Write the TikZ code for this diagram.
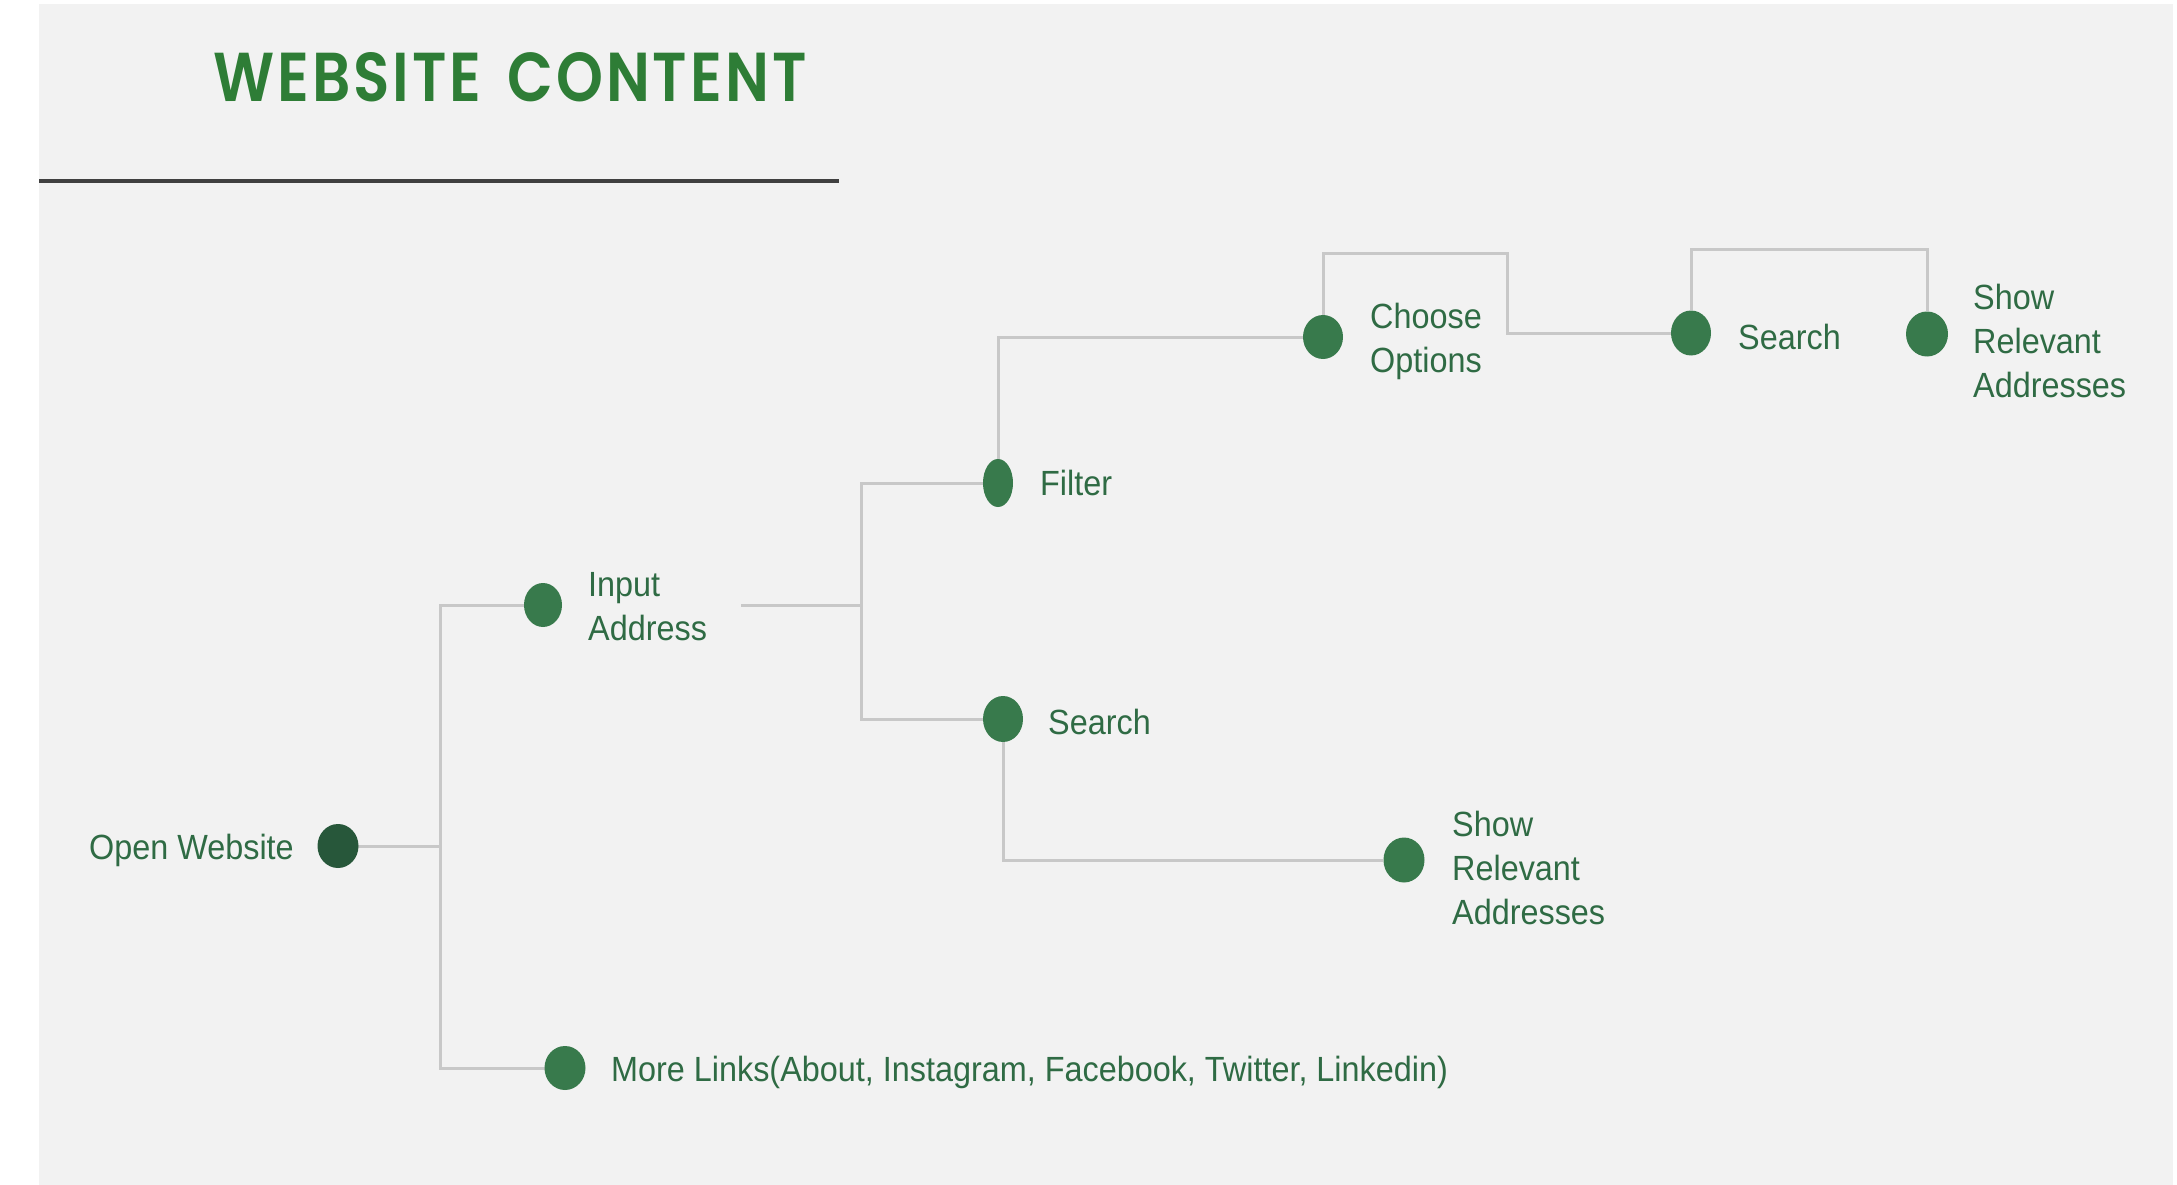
\documentclass[tikz,border=0pt]{standalone}
\usepackage{fontspec}
\setmainfont{Liberation Sans}[FakeStretch=0.925]
\newfontfamily\titlefont{Poppins SemiBold}[LetterSpace=5, WordSpace=1.5]
\usetikzlibrary{shapes.geometric}
\definecolor{bggray}{HTML}{F2F2F2}
\definecolor{rulegray}{HTML}{404040}
\definecolor{linegray}{HTML}{C8C8C8}
\definecolor{titlegreen}{HTML}{2E7D36}
\definecolor{textgreen}{HTML}{2F6B44}
\definecolor{dotgreen}{HTML}{387A4C}
\definecolor{dotdark}{HTML}{27573A}
\tikzset{
  dot/.style={ellipse, fill=dotgreen, draw=none, inner sep=0pt},
  lbl/.style={anchor=base west, inner sep=0pt, text=textgreen, align=left,
    font=\fontsize{35}{44}\selectfont},
  conn/.style={draw=linegray, line width=3pt}
}
\begin{document}
\begin{tikzpicture}[x=1pt, y=-1pt]
\useasboundingbox (0,0) rectangle (2177,1185);
\fill[white] (0,0) rectangle (2177,1185);
\fill[bggray] (39,4) rectangle (2173,1185);
% title and rule
\node[anchor=base west, inner sep=0pt, text=titlegreen] (title) at (213,102)
  {\resizebox{593pt}{49pt}{\titlefont WEBSITE CONTENT}};
\draw[rulegray, line width=4pt] (39,181) -- (839,181);
% junction coordinates
\coordinate (j1) at (440,846);
\coordinate (iaout) at (741,605);
\coordinate (j2) at (861,605);
\coordinate (c1) at (1507,254);
\coordinate (c2) at (1927,250);
% connectors
\path[conn] (j1) |- (543,605);
\path[conn] (j1) |- (565,1068);
\path[conn] (337,846) -- (j1);
\path[conn] (iaout) -- (j2);
\path[conn] (j2) |- (998,483);
\path[conn] (j2) |- (1003,719);
% dots
\node[dot, fill=dotdark, minimum width=41pt, minimum height=44pt] (ow) at (338,846) {};
\node[dot, minimum width=38pt, minimum height=44pt] (ia) at (543,605) {};
\node[dot, minimum width=41pt, minimum height=44pt] (ml) at (565,1068) {};
\node[dot, minimum width=30pt, minimum height=48pt] (filt) at (998,483) {};
\node[dot, minimum width=40pt, minimum height=46pt] (s1) at (1003,719) {};
\node[dot, minimum width=40pt, minimum height=44pt] (ch) at (1323,337) {};
\node[dot, minimum width=40pt, minimum height=45pt] (s2) at (1691,333) {};
\node[dot, minimum width=42pt, minimum height=45pt] (sh1) at (1927,334) {};
\node[dot, minimum width=41pt, minimum height=45pt] (sh2) at (1404,860) {};
% remaining connectors (node to node)
\path[conn] (filt) |- (ch);
\path[conn] (ch) |- (c1) |- (s2);
\path[conn] (s2) |- (c2) -- (sh1);
\path[conn] (s1) |- (sh2);
% labels (multi-line labels are anchored at the baseline of their last line)
\node[lbl] (owl) at (89,859) {Open Website};
\node[lbl] (ial) at (588,640) {Input\\Address};
\node[lbl] (mll) at (611,1081) {More Links(About, Instagram, Facebook, Twitter, Linkedin)};
\node[lbl] (fl) at (1040,495) {Filter};
\node[lbl] (s1l) at (1048,734) {Search};
\node[lbl] (sh2l) at (1452,924) {Show\\Relevant\\Addresses};
\node[lbl] (chl) at (1370,372) {Choose\\Options};
\node[lbl] (s2l) at (1738,349) {Search};
\node[lbl] (sh1l) at (1973,397) {Show\\Relevant\\Addresses};
\end{tikzpicture}
\end{document}
